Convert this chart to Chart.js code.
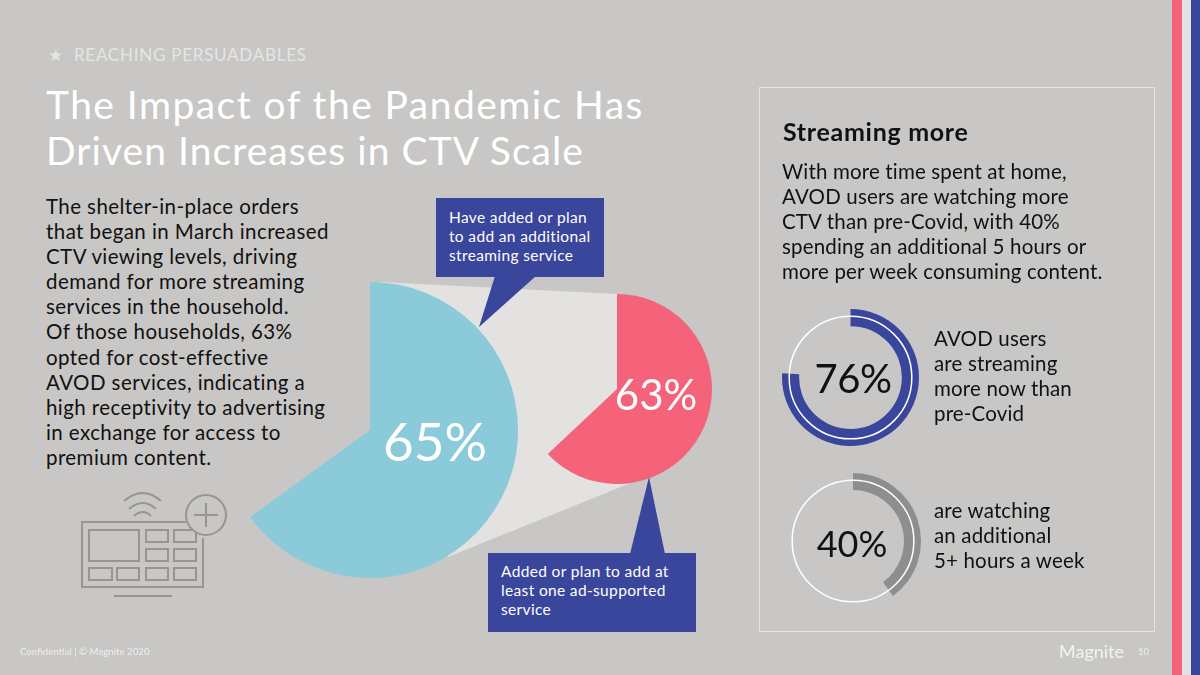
<!DOCTYPE html>
<html lang="en">
<head>
<meta charset="UTF-8">
<title>The Impact of the Pandemic</title>
<script src="https://cdn.jsdelivr.net/npm/chart.js"></script>
<style>
    html, body { margin: 0; padding: 0; }
    body {
        width: 1200px; height: 675px; position: relative; overflow: hidden;
        background: #c8c7c5; color: #111; font-family: Lato, sans-serif;
    }
    .t { position: absolute; white-space: nowrap; margin: 0; }
    canvas { position: absolute; }
    svg { position: absolute; left: 0; top: 0; }
    .stripe { position: absolute; top: 0; height: 675px; }
    .kicker { left: 48px; top: 44px; font-size: 17px; line-height: 22px; letter-spacing: 0.75px; color: #e6e5e3; }
    .title { left: 46px; top: 82px; font-size: 39px; line-height: 45.5px; font-weight: 400; color: #fff; letter-spacing: 1.2px; }
    .body { font-size: 20.5px; line-height: 25.1px; letter-spacing: 0.42px; }
    .side { font-size: 20.5px; line-height: 25.1px; letter-spacing: 0.16px; }
    .box { position: absolute; background: #3a459c; }
    .box p { position: absolute; margin: 0; color: #fff; font-size: 15.5px; line-height: 19px; white-space: nowrap; letter-spacing: 0.35px; }
    .panel { position: absolute; left: 759px; top: 87px; width: 394px; height: 543px; border: 1px solid #e4e3e2; }
    .pct { transform: translate(-50%, -50%); }
</style>
</head>
<body>
<div class="stripe" style="left:1172px;width:9.5px;background:#f4637a"></div>
<div class="stripe" style="left:1181.5px;width:9.5px;background:#e3e2e3"></div>
<div class="stripe" style="left:1191px;width:9px;background:#3a459c"></div>

<div class="t kicker">★ &nbsp;REACHING PERSUADABLES</div>
<h1 class="t title"><span style="letter-spacing:1.45px">The Impact of the Pandemic Has</span><br><span style="letter-spacing:1.05px">Driven Increases in CTV Scale</span></h1>
<p class="t body" style="left:46px;top:194px">The shelter-in-place orders<br>that began in March increased<br>CTV viewing levels, driving<br>demand for more streaming<br>services in the household.<br>Of those households, 63%<br>opted for cost-effective<br>AVOD services, indicating a<br>high receptivity to advertising<br>in exchange for access to<br>premium content.</p>

<svg width="1200" height="675">
    <polygon points="380,282 617,294 633,482 448,557 370,430" fill="#e3e2e1"/>
    <g fill="none" stroke="#969594" stroke-width="2">
        <path d="M186 522H82V587H203V538"/>
        <rect x="89" y="530" width="50" height="31"/>
        <rect x="146" y="530" width="22" height="12"/>
        <rect x="174" y="530" width="22" height="12"/>
        <rect x="146" y="549" width="22" height="12"/>
        <rect x="174" y="549" width="22" height="12"/>
        <rect x="89" y="568" width="23" height="12"/>
        <rect x="117" y="568" width="22" height="12"/>
        <rect x="146" y="568" width="22" height="12"/>
        <rect x="174" y="568" width="22" height="12"/>
        <path d="M114 596H172"/>
        <path d="M124 501Q143 485 161 501M129 509Q143 497 156 509M134 516Q143 508 151 516"/>
        <circle cx="206" cy="515" r="20" fill="#c8c7c5"/>
        <path d="M206 503V527M194 515H218"/>
    </g>
</svg>

<canvas id="bigPie" style="left:222px;top:282px" width="296" height="296"></canvas>
<canvas id="smallPie" style="left:522px;top:294px" width="190" height="190"></canvas>

<svg width="1200" height="675">
    <polygon points="495,276 536,276 479,327" fill="#3a459c"/>
    <polygon points="630,554 665,554 649,477" fill="#3a459c"/>
</svg>
<div class="box" style="left:436px;top:198px;width:168px;height:79px">
    <p style="left:13px;top:10px">Have added or plan<br>to add an additional<br>streaming service</p>
</div>
<div class="box" style="left:488px;top:553px;width:208px;height:79px">
    <p style="left:13px;top:9px">Added or plan to add at<br>least one ad-supported<br>service</p>
</div>
<div class="t pct" style="left:435px;top:440px;font-size:53px;color:#fff">65%</div>
<div class="t pct" style="left:656px;top:394px;font-size:42px;color:#fff">63%</div>

<div class="panel"></div>
<div class="t" style="left:783px;top:116px;font-size:25px;line-height:30px;font-weight:700;letter-spacing:0.7px">Streaming more</div>
<p class="t side" style="left:782px;top:159px">With more time spent at home,<br>AVOD users are watching more<br>CTV than pre-Covid, with 40%<br>spending an additional 5 hours or<br>more per week consuming content.</p>

<canvas id="ringMore" style="left:782px;top:309px" width="137" height="137"></canvas>
<canvas id="ringHours" style="left:785px;top:473px" width="136" height="136"></canvas>
<div class="t pct" style="left:853px;top:378px;font-size:40px;letter-spacing:-0.5px">76%</div>
<div class="t pct" style="left:852px;top:543px;font-size:36px">40%</div>
<p class="t side" style="left:934px;top:326px">AVOD users<br>are streaming<br>more now than<br>pre-Covid</p>
<p class="t side" style="left:934px;top:498px">are watching<br>an additional<br>5+ hours a week</p>

<div class="t" style="left:20px;top:644px;font-size:9.7px;line-height:14px;color:#efeeed">Confidential | © Magnite 2020</div>
<div class="t" style="left:1059px;top:637px;font-size:18px;line-height:28px;color:#f4f3f2">Magnite</div>
<div class="t" style="left:1138px;top:645px;font-size:9.5px;line-height:14px;color:#efeeed">10</div>

<script>
    const bigPieValues = [65, 35];
    const smallPieValues = [63, 37];
    const ringMoreValues = [76, 24];
    const ringHoursValues = [40, 60];

    // thin white circle running through the middle of the ring band
    const ringOutline = {
        id: 'ringOutline',
        afterDatasetsDraw(chart) {
            const arc = chart.getDatasetMeta(0).data[0];
            const ctx = chart.ctx;
            ctx.save();
            ctx.strokeStyle = '#ffffff';
            ctx.lineWidth = 1.5;
            ctx.beginPath();
            ctx.arc(arc.x, arc.y, arc.outerRadius * 0.895, 0, Math.PI * 2);
            ctx.stroke();
            ctx.restore();
        }
    };

    function drawRound(id, type, values, color, extra) {
        return new Chart(document.getElementById(id), {
            type: type,
            data: {
                datasets: [{
                    data: values,
                    backgroundColor: [color, 'rgba(0,0,0,0)'],
                    borderWidth: 0
                }]
            },
            options: Object.assign({
                responsive: false,
                animation: false,
                layout: { padding: 0 },
                plugins: { legend: { display: false }, tooltip: { enabled: false } }
            }, extra.options),
            plugins: extra.plugins
        });
    }

    drawRound('bigPie', 'pie', bigPieValues, '#8bcbd9', {});
    drawRound('smallPie', 'pie', smallPieValues, '#f4637a', {});
    drawRound('ringMore', 'doughnut', ringMoreValues, '#3a459c', { options: { cutout: '75%' }, plugins: [ringOutline] });
    drawRound('ringHours', 'doughnut', ringHoursValues, '#8f8e8e', { options: { cutout: '75%' }, plugins: [ringOutline] });
</script>
</body>
</html>
